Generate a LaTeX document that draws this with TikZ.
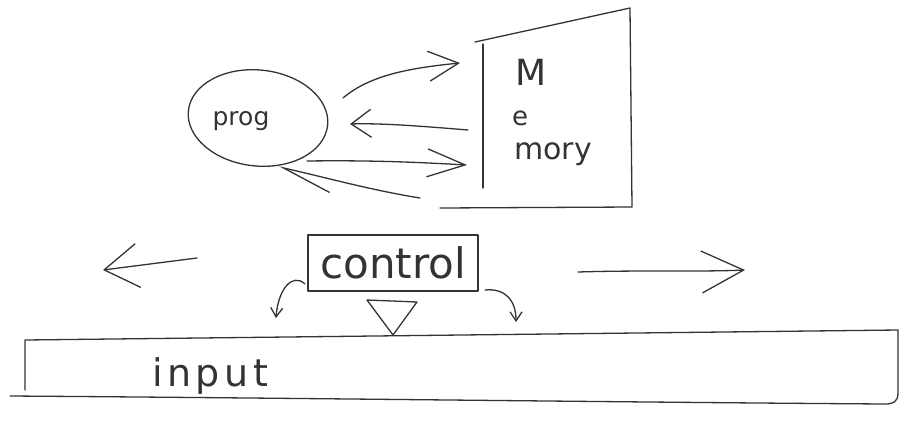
\documentclass[tikz,border=0pt]{standalone}
\usepackage{fontspec}
\setmainfont{DejaVu Sans}
\usetikzlibrary{arrows.meta,shapes.geometric}
\definecolor{ink}{HTML}{333333}
\begin{document}
\begin{tikzpicture}[x=1pt,y=-1pt,line width=1.3pt,line cap=round,line join=round,color=ink,
  txt/.style={text=ink,inner sep=0pt},
  barb/.style={-{Straight Barb[length=30pt,width=30pt,line width=1.3pt]}},
  smallbarb/.style={-{Straight Barb[length=9pt,width=12pt,line width=1.3pt]}}]
\useasboundingbox (0,0) rectangle (901,421);
% prog
\node[ellipse,draw=ink,minimum width=140pt,minimum height=96pt,rotate=-6,txt] (prog) at (258,118) {};
\node[txt,font=\fontsize{25}{25}\selectfont] (progt) at (241,121) {prog};
% memory
\node[minimum width=150pt,minimum height=165pt] (mem) at (556,118) {};
\draw (475,42) -- (630,8) -- (632,207) -- (440,208);
\draw (483,44) -- (483,188);
\node[txt,font=\fontsize{36}{36}\selectfont] (mM) at (531,72) {M};
\node[txt,font=\fontsize{26}{26}\selectfont] (me) at (520,118) {e};
\node[txt,font=\fontsize{30}{30}\selectfont] (mory) at (553,154) {mory};
% arrows prog <-> memory
\coordinate (a1s) at (343,98);  \coordinate (a1e) at (460,63);
\coordinate (a2s) at (468,130); \coordinate (a2e) at (350,124);
\coordinate (a3s) at (307,161); \coordinate (a3e) at (467,165);
\coordinate (a4s) at (420,198); \coordinate (a4e) at (279,167);
\draw[barb] (a1s) .. controls (370,75) and (410,68) .. (a1e);
\draw[-{Straight Barb[length=20pt,width=28pt,line width=1.3pt]}] (a2s) .. controls (420,126) and (380,123) .. (a2e);
\draw[-{Straight Barb[length=38pt,width=28pt,line width=1.3pt]}] (a3s) .. controls (380,160) and (430,163) .. (a3e);
\draw[-{Straight Barb[length=50pt,width=28pt,line width=1.3pt,left]}] (a4s) .. controls (370,190) and (320,176) .. (a4e);
% control
\node[draw=ink,minimum width=170pt,minimum height=56pt,txt,font=\fontsize{42}{42}\selectfont] (ctrl) at (393,263) {control};
% triangle
\coordinate (t1) at (367,300); \coordinate (t2) at (417,302); \coordinate (t3) at (393,335);
\draw (t1) -- (t2) -- (t3) -- cycle;
% small curved arrows
\coordinate (c1s) at (305,284); \coordinate (c1e) at (276,318);
\coordinate (c2s) at (485,290); \coordinate (c2e) at (516,322);
\draw[smallbarb] (c1s) .. controls (292,272) and (278,290) .. (c1e);
\draw[smallbarb] (c2s) .. controls (505,288) and (516,300) .. (c2e);
% big side arrows
\coordinate (l1) at (197,258); \coordinate (l2) at (103,270);
\coordinate (r1) at (578,272); \coordinate (r2) at (745,270);
\draw[-{Straight Barb[length=34pt,width=44pt,line width=1.3pt]}] (l1) -- (l2);
\draw[-{Straight Barb[length=42pt,width=42pt,line width=1.3pt]}] (r1) .. controls (640,270) and (700,272) .. (r2);
% input
\node[minimum width=870pt,minimum height=62pt] (inp) at (460,368) {};
\draw (25,390) -- (25,340) -- (898,330) -- (898,393) .. controls (898,402) and (893,404) .. (885,404)
  .. controls (600,402) and (300,398) .. (10,396);
\node[txt,font=\fontsize{38}{38}\selectfont\addfontfeature{LetterSpace=12}] (inpt) at (210,376) {input};
\end{tikzpicture}
\end{document}
